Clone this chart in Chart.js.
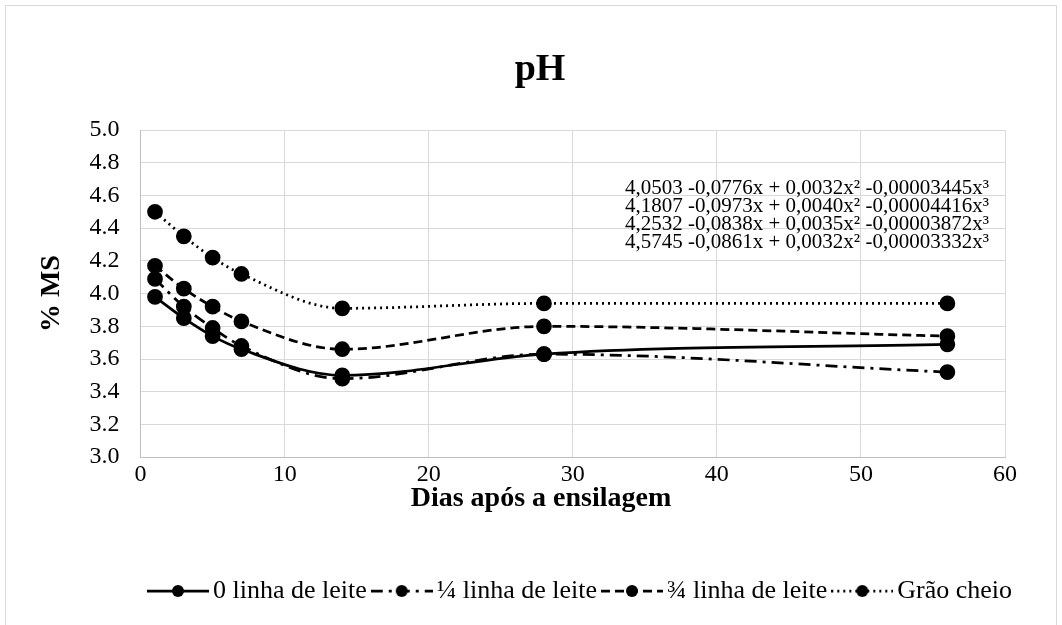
<!DOCTYPE html>
<html>
<head>
<meta charset="utf-8">
<script src="https://cdn.jsdelivr.net/npm/chart.js@4"></script>
<style>
  body { margin: 0; background: #fff; }
  #box { position: absolute; left: 5px; top: 5px; width: 1050px; height: 640px; border: 1px solid #d9d9d9; }
  canvas { display: block; }
</style>
</head>
<body>
<div id="box"><canvas id="phChart" width="1050" height="620"></canvas></div>
<script>
// days after ensiling
const days = [1, 3, 5, 7, 14, 28, 56];
// pH per maturity stage
const linha0 = [3.98, 3.85, 3.74, 3.66, 3.50, 3.63, 3.69];
const linha14 = [4.09, 3.92, 3.79, 3.68, 3.48, 3.63, 3.52];
const linha34 = [4.17, 4.03, 3.92, 3.83, 3.66, 3.80, 3.74];
const graoCheio = [4.50, 4.35, 4.22, 4.12, 3.91, 3.94, 3.94];
const seriesNames = ["0 linha de leite", "¼ linha de leite", "¾ linha de leite", "Grão cheio"];
const equations = [
  "4,0503 -0,0776x + 0,0032x² -0,00003445x³",
  "4,1807 -0,0973x + 0,0040x² -0,00004416x³",
  "4,2532 -0,0838x + 0,0035x² -0,00003872x³",
  "4,5745 -0,0861x + 0,0032x² -0,00003332x³"
];
const chartTitle = "pH";
const xTitle = "Dias após a ensilagem";
const yTitle = "% MS";

const serif = "'Liberation Serif', 'Times New Roman', serif";
const dashes = [[], [12, 6, 3, 6], [9, 5], [2, 4]];
const allSeries = [linha0, linha14, linha34, graoCheio];

// small picture of line + marker for the legend
function legendSample(dash) {
  const c = document.createElement("canvas");
  c.width = 62;
  c.height = 16;
  const g = c.getContext("2d");
  g.strokeStyle = "#000";
  g.lineWidth = 2.75;
  g.setLineDash(dash);
  g.beginPath();
  g.moveTo(0, 8);
  g.lineTo(62, 8);
  g.stroke();
  g.fillStyle = "#000";
  g.beginPath();
  g.arc(31, 8, 6, 0, Math.PI * 2);
  g.fill();
  return c;
}

// title, x axis title, equations and legend offset (Excel-like placement)
const textPlugin = {
  id: "texts",
  afterLayout(chart) {
    const lg = chart.legend;
    const shift = 578 - (lg.left + lg.right) / 2;
    lg.left += shift;
    lg.right += shift;
  },
  afterDraw(chart) {
    const { ctx, chartArea } = chart;
    ctx.save();
    ctx.fillStyle = "#000";
    ctx.textBaseline = "middle";

    ctx.textAlign = "center";
    ctx.font = "bold 38px " + serif;
    ctx.fillText(chartTitle, 534, 64);
    ctx.font = "bold 28px " + serif;
    ctx.fillText(xTitle, 535, chartArea.bottom + 42);

    ctx.textAlign = "left";
    ctx.font = "21px " + serif;
    equations.forEach((t, i) => {
      ctx.fillText(t, chartArea.right - 380, chartArea.top + 58 + i * 18);
    });
    ctx.restore();
  },
};

const ctx = document.querySelector("#phChart");

new Chart(ctx, {
  type: "scatter",
  data: {
    datasets: allSeries.map((vals, i) => ({
      label: seriesNames[i],
      data: days.map((d, j) => ({ x: d, y: vals[j] })),
      showLine: true,
      cubicInterpolationMode: "monotone",
      borderColor: "#000",
      backgroundColor: "#000",
      borderWidth: 2.75,
      borderDash: dashes[i],
      pointRadius: 6.5,
      pointHoverRadius: 6.5,
      pointBackgroundColor: "#000",
      pointBorderColor: "#000",
    })),
  },
  options: {
    responsive: false,
    animation: false,
    layout: { padding: { left: 0, right: 51, top: 124, bottom: 12 } },
    plugins: {
      tooltip: { enabled: false },
      title: { display: false },
      legend: {
        position: "bottom",
        labels: {
          color: "#000",
          font: { family: serif, size: 26 },
          usePointStyle: true,
          pointStyleWidth: 44,
          padding: 13,
          generateLabels(chart) {
            return chart.data.datasets.map((ds, i) => ({
              text: ds.label,
              pointStyle: legendSample(dashes[i]),
              fillStyle: "#000",
              strokeStyle: "#000",
              lineWidth: 0,
              hidden: false,
              datasetIndex: i,
              fontColor: "#000",
            }));
          },
        },
      },
    },
    scales: {
      x: {
        type: "linear",
        min: 0,
        max: 60,
        ticks: {
          stepSize: 10,
          color: "#000",
          padding: 3,
          font: { family: serif, size: 24 },
        },
        grid: { color: "#d9d9d9", drawTicks: false },
        border: { color: "#bfbfbf" },
        // room for the axis title and the gap above the legend
        afterFit(scale) {
          scale.height += 73;
        },
      },
      y: {
        min: 3,
        max: 5,
        ticks: {
          stepSize: 0.2,
          color: "#000",
          padding: 21,
          font: { family: serif, size: 24 },
          callback: (v) => v.toFixed(1),
        },
        grid: { color: "#d9d9d9", drawTicks: false },
        border: { color: "#bfbfbf" },
        title: {
          display: true,
          text: yTitle,
          color: "#000",
          font: { family: serif, size: 28, weight: "bold" },
          padding: { top: 29, bottom: 0 },
        },
      },
    },
  },
  plugins: [textPlugin],
});
</script>
</body>
</html>
